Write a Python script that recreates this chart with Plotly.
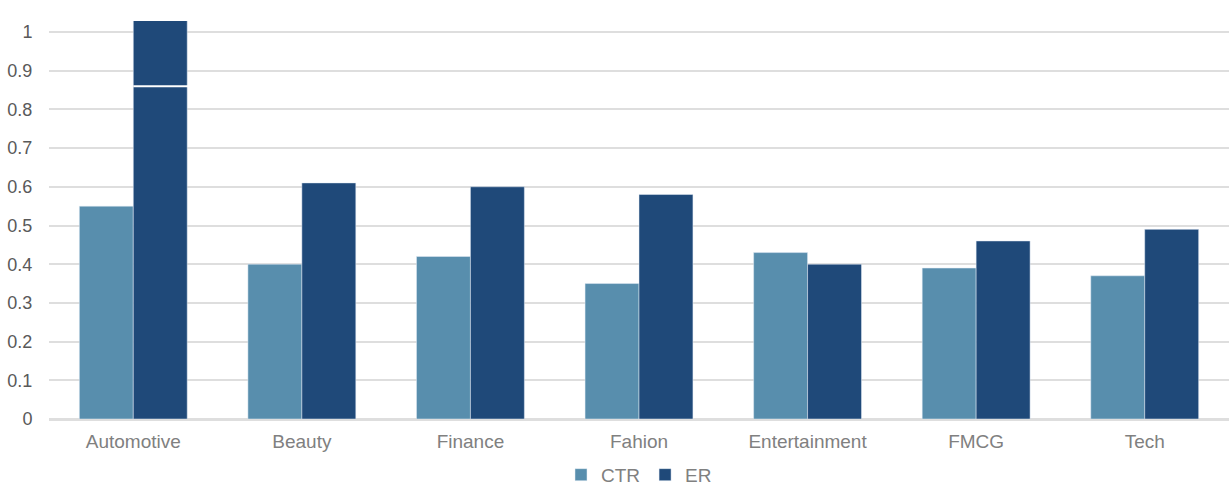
import plotly.graph_objects as go

categories = ["Automotive", "Beauty", "Finance", "Fahion", "Entertainment", "FMCG", "Tech"]
ctr = [0.55, 0.40, 0.42, 0.35, 0.43, 0.39, 0.37]
er = [1.20, 0.61, 0.60, 0.58, 0.40, 0.46, 0.49]
break_value = 0.86
y_ticks = [0, 0.1, 0.2, 0.3, 0.4, 0.5, 0.6, 0.7, 0.8, 0.9, 1]
y_tick_text = ["0", "0.1", "0.2", "0.3", "0.4", "0.5", "0.6", "0.7", "0.8", "0.9", "1"]

CTR_COLOR = "#588EAD"
ER_COLOR = "#1F4979"
TEXT_COLOR = "#808080"
GRID = "#dedede"
FONT = "Liberation Sans, Arial, sans-serif"

fig = go.Figure()
fig.add_trace(go.Bar(name="CTR", x=categories, y=ctr, marker_color=CTR_COLOR))
fig.add_trace(go.Bar(name="ER", x=categories, y=er, marker_color=ER_COLOR))

# break marker on the clipped Automotive ER bar
fig.add_shape(type="line", xref="x", yref="y",
              x0=categories[0], x1=categories[0], x0shift=0, x1shift=0.33,
              y0=break_value, y1=break_value,
              line=dict(color="white", width=2), layer="above")

fig.update_layout(
    width=1229, height=488,
    margin=dict(l=49, r=0, t=21, b=69),
    paper_bgcolor="white", plot_bgcolor="white",
    barmode="group", bargap=0.36, bargroupgap=0,
    font=dict(family=FONT, size=19, color=TEXT_COLOR),
    showlegend=True,
    legend=dict(orientation="h", x=0.5, xanchor="center",
                yref="container", y=0.066, yanchor="top",
                font=dict(family=FONT, size=19, color=TEXT_COLOR), itemwidth=30,
                traceorder="normal"),
)
fig.update_yaxes(range=[0, 1.0284], tickvals=y_ticks, ticktext=y_tick_text,
                 showgrid=True, gridcolor=GRID, gridwidth=2,
                 zeroline=True, zerolinecolor=GRID, zerolinewidth=2,
                 ticks="outside", ticklen=12, tickcolor="rgba(0,0,0,0)",
                 showline=False, tickfont=dict(family=FONT, size=18, color="#595959"))
fig.update_xaxes(showline=True, linecolor=GRID, linewidth=2,
                 ticks="outside", ticklen=4, tickcolor="rgba(0,0,0,0)",
                 tickfont=dict(family=FONT, size=19, color=TEXT_COLOR))

fig.write_html("out.html")
